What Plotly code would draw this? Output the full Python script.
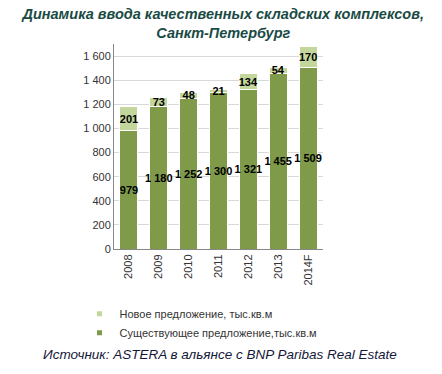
import plotly.graph_objects as go

years = ["2008", "2009", "2010", "2011", "2012", "2013", "2014F"]
existing = [979, 1180, 1252, 1300, 1321, 1455, 1509]
new = [201, 73, 48, 21, 134, 54, 170]
y_ticks = [0, 200, 400, 600, 800, 1000, 1200, 1400, 1600]

name_new = "Новое предложение, тыс.кв.м"
name_exist = "Существующее предложение,тыс.кв.м"
col_exist = "#7F9A48"
col_new = "#C3D69B"

def fmt(v):
    return f"{v:,}".replace(",", " ")

label_font = dict(family="Liberation Sans, Arial", size=11, color="black", weight="bold")

fig = go.Figure()
fig.add_trace(go.Bar(
    x=years, y=existing, name=name_exist, showlegend=False,
    marker=dict(color=col_exist, line=dict(color="white", width=1)),
    text=[fmt(v) for v in existing], textposition="inside", insidetextanchor="middle",
    constraintext="none", textangle=0, textfont=label_font, cliponaxis=False,
))
fig.add_trace(go.Bar(
    x=years, y=new, name=name_new, showlegend=False,
    marker=dict(color=col_new, line=dict(color="white", width=1)),
    text=[fmt(v) for v in new], textposition="inside", insidetextanchor="middle",
    constraintext="none", textangle=0, textfont=label_font, cliponaxis=False,
))
# legend entries with small square markers
fig.add_trace(go.Scatter(x=[None], y=[None], mode="markers", name=name_new,
                         marker=dict(symbol="square", size=5, color=col_new)))
fig.add_trace(go.Scatter(x=[None], y=[None], mode="markers", name=name_exist,
                         marker=dict(symbol="square", size=5, color=col_exist)))

fig.update_layout(
    barmode="stack", bargap=0.4,
    width=442, height=374,
    margin=dict(l=114, r=119, t=44, b=125),
    paper_bgcolor="white", plot_bgcolor="white",
    separators=", ",
    font=dict(family="Liberation Sans, Arial", size=11, color="#333333"),
    title=dict(
        text="<b><i>Динамика ввода качественных складских комплексов,<br>Санкт-Петербург</i></b>",
        x=0.505, xanchor="center", y=0.95, yanchor="top",
        font=dict(family="Liberation Sans, Arial", size=14.5, color="#1A4A44"),
    ),
    xaxis=dict(
        tickangle=-90, showline=True, linecolor="#888888", linewidth=1,
        ticks="", tickfont=dict(size=11, color="#333333"),
    ),
    yaxis=dict(
        range=[0, 1700], tickvals=y_ticks, tickformat=",d", separatethousands=True,
        showgrid=True, gridcolor="#D9D9D9", showline=True, linecolor="#888888",
        ticks="", ticklen=0, tickfont=dict(size=11, color="#333333"), zeroline=False,
    ),
    legend=dict(
        x=-0.165, y=-0.245, xanchor="left", yanchor="top", traceorder="normal",
        font=dict(size=11, color="#333333"), itemwidth=30, tracegroupgap=0,
        bgcolor="rgba(0,0,0,0)",
    ),
    annotations=[dict(
        text="<i>Источник: ASTERA в альянсе с BNP Paribas Real Estate</i>",
        xref="paper", yref="paper", x=0.505, y=-0.517, xanchor="center", yanchor="middle",
        showarrow=False, font=dict(family="Liberation Sans, Arial", size=13.5, color="#14183A"),
    )],
)

fig.write_html("out.html", config={"displayModeBar": False},
               post_script="document.body.style.margin='0';")
